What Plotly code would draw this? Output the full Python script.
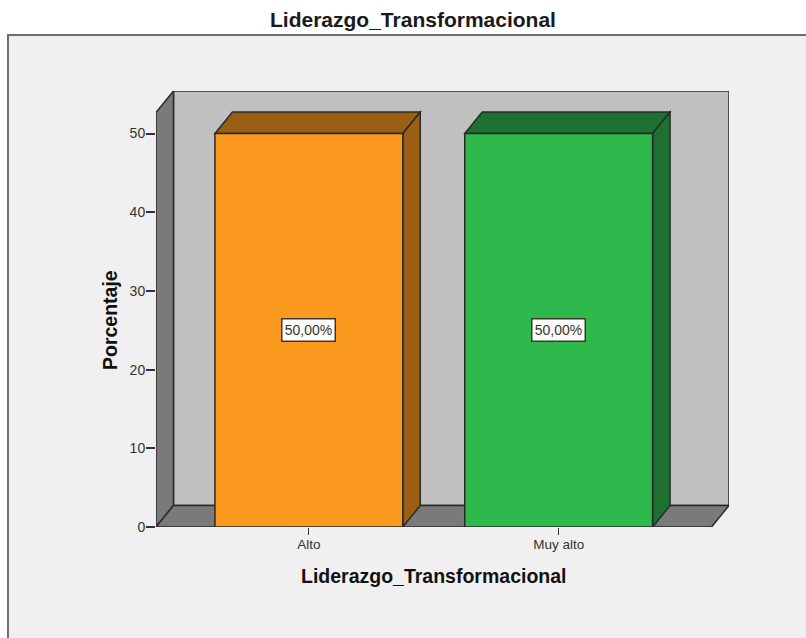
import plotly.graph_objects as go

categories = ["Alto", "Muy alto"]
percentages = [50.0, 50.0]
bar_labels = ["50,00%", "50,00%"]
bar_colors = ["#FC991F", "#2FB84C"]
top_colors = ["#9A5F12", "#1F7132"]
y_ticks = [0, 10, 20, 30, 40, 50]

TITLE = "Liderazgo_Transformacional"
Y_TITLE = "Porcentaje"
FONT = "Liberation Sans"
EDGE = "#2a2a2a"

# Pseudo-3D extrusion expressed in axis units
DEPTH_X = 0.07
DEPTH_Y = 2.73
BAR_WIDTH = 0.752
WALL_LEFT = -0.612
WALL_RIGHT = 1.612
WALL_TOP = 52.67

W, H = 806, 638
LEFT, RIGHT, TOP, BOTTOM = 156, 77, 91, 111
plot_w = W - LEFT - RIGHT
plot_h = H - TOP - BOTTOM


def polygon(points, fill, line=EDGE, width=1.5):
    path = "M " + " L ".join(f"{x} {y}" for x, y in points) + " Z"
    return dict(type="path", path=path, xref="x", yref="y", layer="below",
                fillcolor=fill, line=dict(color=line, width=width))


shapes = [
    # Chart panel, running off the right and bottom of the page
    dict(type="rect", xref="paper", yref="paper",
         x0=(8 - LEFT) / plot_w, x1=(W + 20 - LEFT) / plot_w,
         y0=(H - BOTTOM - H - 20) / plot_h, y1=(H - BOTTOM - 35) / plot_h,
         fillcolor="#F0F0F0", line=dict(color="#6E6E6E", width=2), layer="below"),
    # Back wall
    polygon([(WALL_LEFT + DEPTH_X, DEPTH_Y), (WALL_RIGHT + DEPTH_X, DEPTH_Y),
             (WALL_RIGHT + DEPTH_X, WALL_TOP + DEPTH_Y), (WALL_LEFT + DEPTH_X, WALL_TOP + DEPTH_Y)],
            "#C0C0C0"),
    # Side wall
    polygon([(WALL_LEFT, 0), (WALL_LEFT + DEPTH_X, DEPTH_Y),
             (WALL_LEFT + DEPTH_X, WALL_TOP + DEPTH_Y), (WALL_LEFT, WALL_TOP)],
            "#7A7A7A"),
    # Floor
    polygon([(WALL_LEFT, 0), (WALL_RIGHT, 0), (WALL_RIGHT + DEPTH_X, DEPTH_Y),
             (WALL_LEFT + DEPTH_X, DEPTH_Y)],
            "#7A7A7A"),
]

positions = list(range(len(categories)))
half = BAR_WIDTH / 2
for pos, value, shade in zip(positions, percentages, top_colors):
    # Top face
    shapes.append(polygon([(pos - half, value), (pos + half, value),
                           (pos + half + DEPTH_X, value + DEPTH_Y),
                           (pos - half + DEPTH_X, value + DEPTH_Y)], shade))
    # Right face
    shapes.append(polygon([(pos + half, 0), (pos + half + DEPTH_X, DEPTH_Y),
                           (pos + half + DEPTH_X, value + DEPTH_Y), (pos + half, value)], shade))

annotations = [
    dict(x=pos, y=value / 2, text=label, showarrow=False, bgcolor="#FFFFFF",
         bordercolor="#3a3a2a", borderwidth=1.5, borderpad=0, width=52, height=21,
         align="center", valign="middle",
         font=dict(family=FONT, size=14, color="#333333"))
    for pos, value, label in zip(positions, percentages, bar_labels)
]
annotations.extend([
    dict(xref="paper", yref="paper", x=(413 - LEFT) / plot_w, y=(H - BOTTOM - 19) / plot_h,
         text=f"<b>{TITLE}</b>", showarrow=False, font=dict(family=FONT, size=21, color="#1a1a1a"),
         xanchor="center", yanchor="middle"),
    dict(xref="paper", yref="paper", x=(434 - LEFT) / plot_w, y=(H - BOTTOM - 576) / plot_h,
         text=f"<b>{TITLE}</b>", showarrow=False, font=dict(family=FONT, size=19.5, color="#111111"),
         xanchor="center", yanchor="middle"),
    dict(xref="paper", yref="paper", x=(110 - LEFT) / plot_w, y=(H - BOTTOM - 320) / plot_h,
         text=f"<b>{Y_TITLE}</b>", showarrow=False, textangle=-90,
         font=dict(family=FONT, size=19.5, color="#111111"),
         xanchor="center", yanchor="middle"),
])

fig = go.Figure(go.Bar(
    x=positions, y=percentages, width=BAR_WIDTH,
    marker=dict(color=bar_colors, line=dict(color=EDGE, width=1.5)),
    hoverinfo="skip",
))

fig.update_layout(
    width=W, height=H,
    margin=dict(l=LEFT, r=RIGHT, t=TOP, b=BOTTOM, pad=0),
    paper_bgcolor="#FFFFFF",
    plot_bgcolor="rgba(0,0,0,0)",
    showlegend=False,
    shapes=shapes,
    annotations=annotations,
    xaxis=dict(range=[WALL_LEFT, WALL_RIGHT + DEPTH_X], tickvals=positions, ticktext=categories,
               ticks="outside", ticklen=7, tickwidth=1, tickcolor="#333333",
               ticklabelstandoff=-2,
               showgrid=False, zeroline=False, showline=False,
               tickfont=dict(family=FONT, size=13.5, color="#333333")),
    yaxis=dict(range=[0, WALL_TOP + DEPTH_Y], tickvals=y_ticks,
               ticks="outside", ticklen=9, tickwidth=1.5, tickcolor="#333333",
               ticklabelstandoff=-2,
               showgrid=False, zeroline=False, showline=False,
               tickfont=dict(family=FONT, size=14, color="#333333")),
)

fig.write_html("out.html")
